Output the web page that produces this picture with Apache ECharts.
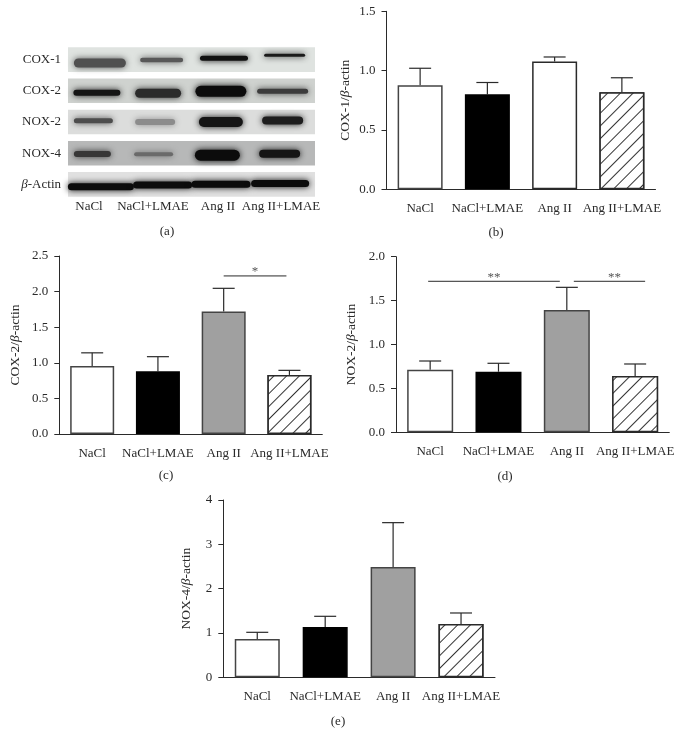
<!DOCTYPE html>
<html>
<head>
<meta charset="utf-8">
<title>COX and NOX expression</title>
<style>
  html, body { margin: 0; padding: 0; background: #fff; }
  #chart { width: 682px; height: 747px; }
</style>
<script src="https://cdn.jsdelivr.net/npm/echarts@6/dist/echarts.min.js"></script>
</head>
<body>
<div id="chart"></div>
<script>
const groups = ['NaCl', 'NaCl+LMAE', 'Ang II', 'Ang II+LMAE']

// bar heights and top of the error bar
const cox1Means = [0.876, 0.80, 1.076, 0.817]
const cox1Tops = [1.02, 0.90, 1.115, 0.94]
const cox2Means = [0.955, 0.88, 1.72, 0.83]
const cox2Tops = [1.14, 1.086, 2.046, 0.894]
const nox2Means = [0.713, 0.69, 1.393, 0.641]
const nox2Tops = [0.812, 0.786, 1.651, 0.778]
const nox4Means = [0.865, 1.135, 2.49, 1.203]
const nox4Tops = [1.015, 1.376, 3.489, 1.451]

// significance brackets: [from group, to group, level, stars]
const cox2Sig = [[2, 3, 2.22, '*']]
const nox2Sig = [[0, 2, 1.72, '**'], [2, 3, 1.72, '**']]
// the drawn lines stop short of the bar centres: [start dx, end dx, star dx]
const cox2SigInset = [[0, -3, 0]]
const nox2SigInset = [[-2, -7, 0], [7, 10, 5]]

// blot panel: how dark each band is per row, 0 to 1
const blotRows = ['COX-1', 'COX-2', 'NOX-2', 'NOX-4', 'β-Actin']
const blotDarkness = [
  [0.6, 0.55, 0.97, 0.92],
  [0.95, 0.82, 1, 0.72],
  [0.62, 0.25, 0.95, 0.9],
  [0.75, 0.45, 1, 0.95],
  [1, 1, 1, 1]
]
const blotRowShade = ['#dfe3e0', '#cfd2cf', '#dcdddc', '#b7b8b8', '#e0e0e0']

// band placement inside each row, [dx, dy, w, h] from the lane/row centre
const bandLayout = [
  [[1, 3.4, 52, 9], [1, 0.4, 43, 4.5], [1.6, -1.3, 48, 5], [0.5, -4.3, 41, 3]],
  [[-2, 2, 47, 6], [-2.5, 2.5, 46, 9], [-1.5, 0.5, 51, 11], [-1.5, 0.5, 51, 5]],
  [[-5.5, -1.3, 39, 5], [-5.5, 0, 40, 6], [-1.5, 0, 44, 10], [-1.5, -1.5, 41, 8]],
  [[-6.5, 0.8, 37, 6], [-7, 1, 39, 4], [-5, 2, 45, 11], [-4.5, 0.5, 41, 8]],
  [[2, 2.3, 66, 7], [2, 0.6, 59, 7], [-1.4, -0.1, 59, 7], [-4, -0.9, 58, 7]]
]
const laneLabelX = [89, 153, 218, 281]

const panels = [
  { name: 'COX-1/{i|β}-actin', means: cox1Means, tops: cox1Tops, sig: [], inset: [], max: 1.5, step: 0.5, digits: 1,
    left: 386.5, top: 11.3, width: 269, height: 178, barWidth: 45, gap: 34, fill: '#fff' },
  { name: 'COX-2/{i|β}-actin', means: cox2Means, tops: cox2Tops, sig: cox2Sig, inset: cox2SigInset, max: 2.5, step: 0.5, digits: 1,
    left: 59.3, top: 256, width: 263, height: 178, barWidth: 44, gap: 37, fill: '#a0a0a0' },
  { name: 'NOX-2/{i|β}-actin', means: nox2Means, tops: nox2Tops, sig: nox2Sig, inset: nox2SigInset, max: 2, step: 0.5, digits: 1,
    left: 396, top: 256.7, width: 273.3, height: 175.6, barWidth: 46, gap: 38, fill: '#a0a0a0' },
  { name: 'NOX-4/{i|β}-actin', means: nox4Means, tops: nox4Tops, sig: [], inset: [], max: 4, step: 1, digits: 0,
    left: 223.3, top: 500, width: 271.7, height: 177.3, barWidth: 45, gap: 30, fill: '#a0a0a0' }
]

const serif = '"Liberation Serif", serif'
const ink = '#2a2a2a'
const hatch = {
  symbol: 'rect',
  color: '#333',
  backgroundColor: '#fff',
  dashArrayX: [1, 0],
  dashArrayY: [1, 8],
  rotation: -Math.PI / 4
}

function barFill(fill, i) {
  if (i === 1) return { color: '#000', borderColor: '#000', borderWidth: 1.5 }
  if (i === 3) return { color: '#fff', borderColor: '#2a2a2a', borderWidth: 1.5, decal: hatch }
  if (i === 2) return { color: fill, borderColor: fill === '#fff' ? '#2a2a2a' : '#444', borderWidth: 1.5 }
  return { color: '#fff', borderColor: '#444', borderWidth: 1.5 }
}

const grid = []
const xAxis = []
const yAxis = []
const series = []

panels.forEach((p, k) => {
  grid.push({ left: p.left, top: p.top, width: p.width, height: p.height })
  xAxis.push({
    type: 'category',
    gridIndex: k,
    data: groups,
    axisLine: { lineStyle: { color: ink, width: 1 }},
    axisTick: { alignWithLabel: true, length: 5, lineStyle: { color: ink }},
    axisLabel: { interval: 0, margin: 13, color: ink, fontFamily: serif, fontSize: 13, hideOverlap: false }
  })
  yAxis.push({
    type: 'value',
    gridIndex: k,
    min: 0,
    max: p.max,
    interval: p.step,
    name: p.name,
    nameLocation: 'middle',
    nameGap: p.gap,
    nameTextStyle: {
      color: ink, fontFamily: serif, fontSize: 13.5,
      rich: { i: { fontStyle: 'italic', color: ink, fontFamily: serif, fontSize: 13.5 }}
    },
    axisLine: { show: true, lineStyle: { color: ink, width: 1 }},
    axisTick: { show: true, length: 5, lineStyle: { color: ink }},
    splitLine: { show: false },
    axisLabel: {
      margin: 11, color: ink, fontFamily: serif, fontSize: 13,
      formatter: v => v.toFixed(p.digits)
    }
  })
  // error bars go underneath so the bar border stays clean
  series.push({
    type: 'custom',
    xAxisIndex: k,
    yAxisIndex: k,
    clip: false,
    z: 1,
    data: p.means.map((m, i) => [i, m, p.tops[i]]),
    renderItem(params, api) {
      const low = api.coord([api.value(0), api.value(1)])
      const high = api.coord([api.value(0), api.value(2)])
      const line = { stroke: ink, lineWidth: 1.2 }
      return {
        type: 'group',
        children: [
          { type: 'line', shape: { x1: low[0], y1: low[1], x2: high[0], y2: high[1] }, style: line },
          { type: 'line', shape: { x1: high[0] - 11, y1: high[1], x2: high[0] + 11, y2: high[1] }, style: line }
        ]
      }
    }
  })
  series.push({
    type: 'bar',
    xAxisIndex: k,
    yAxisIndex: k,
    barWidth: p.barWidth,
    z: 2,
    animation: false,
    data: p.means.map((m, i) => ({ value: m, itemStyle: barFill(p.fill, i) }))
  })
  if (p.sig.length) {
    series.push({
      type: 'custom',
      xAxisIndex: k,
      yAxisIndex: k,
      clip: false,
      z: 3,
      data: p.sig.map((s, i) => [i, s[2]]),
      renderItem(params, api) {
        const idx = api.value(0)
        const s = p.sig[idx]
        const inset = p.inset[idx]
        const a = api.coord([s[0], s[2]])
        const b = api.coord([s[1], s[2]])
        const x1 = a[0] + inset[0]
        const x2 = b[0] + inset[1]
        return {
          type: 'group',
          children: [
            { type: 'line', shape: { x1: x1, y1: a[1], x2: x2, y2: a[1] }, style: { stroke: ink, lineWidth: 1 }},
            { type: 'text', style: {
              x: (x1 + x2) / 2 + inset[2], y: a[1] + 2.5, text: s[3], fill: '#555',
              font: '13px ' + serif, align: 'center', verticalAlign: 'bottom'
            }}
          ]
        }
      }
    })
  }
})

// blot panel, one lane/row cell per band
const blotIndex = panels.length
grid.push({ left: 68, top: 44, width: 247, height: 156 })
xAxis.push({
  type: 'category',
  gridIndex: blotIndex,
  data: groups,
  axisLine: { show: false },
  axisTick: { show: false },
  axisLabel: { show: false }
})
yAxis.push({
  type: 'category',
  gridIndex: blotIndex,
  data: blotRows,
  inverse: true,
  axisLine: { show: false },
  axisTick: { show: false },
  axisLabel: {
    margin: 7, color: ink, fontFamily: serif, fontSize: 13,
    formatter: v => (v === 'β-Actin' ? '{i|β}-Actin' : v),
    rich: { i: { fontStyle: 'italic', color: ink, fontFamily: serif, fontSize: 13 }}
  }
})
series.push({
  type: 'custom',
  xAxisIndex: blotIndex,
  yAxisIndex: blotIndex,
  clip: false,
  z: 1,
  data: blotRows.map((r, i) => [0, i]),
  renderItem(params, api) {
    const row = api.value(1)
    const c = api.coord([0, row])
    return {
      type: 'rect',
      shape: { x: 68, y: c[1] - 12.3, width: 247, height: 24.6 },
      style: { fill: blotRowShade[row] }
    }
  }
})
const blotCells = []
blotDarkness.forEach((row, r) => row.forEach((d, l) => blotCells.push([l, r, d])))
series.push({
  type: 'custom',
  xAxisIndex: blotIndex,
  yAxisIndex: blotIndex,
  clip: false,
  z: 2,
  data: blotCells,
  renderItem(params, api) {
    const lane = api.value(0)
    const row = api.value(1)
    const level = Math.round((1 - api.value(2)) * 170 + 12)
    const color = 'rgb(' + level + ',' + level + ',' + level + ')'
    const c = api.coord([lane, row])
    const b = bandLayout[row][lane]
    return {
      type: 'rect',
      shape: { x: c[0] + b[0] - b[2] / 2, y: c[1] + b[1] - b[3] / 2, width: b[2], height: b[3], r: b[3] / 2 },
      style: { fill: color, shadowBlur: 6, shadowColor: color }
    }
  }
})

const text = (x, y, t) => ({
  type: 'text',
  x: x,
  y: y,
  style: { text: t, fill: ink, font: '13px ' + serif, align: 'center', verticalAlign: 'middle' }
})

const myChart = echarts.init(document.getElementById('chart'), null, { renderer: 'canvas' })
myChart.setOption({
  animation: false,
  backgroundColor: '#fff',
  grid: grid,
  xAxis: xAxis,
  yAxis: yAxis,
  series: series,
  graphic: [
    ...groups.map((g, i) => text(laneLabelX[i], 207, g)),
    text(167, 232, '(a)'),
    text(496, 232.5, '(b)'),
    text(166, 476, '(c)'),
    text(505, 477, '(d)'),
    text(338, 721.5, '(e)')
  ]
})
</script>
</body>
</html>
